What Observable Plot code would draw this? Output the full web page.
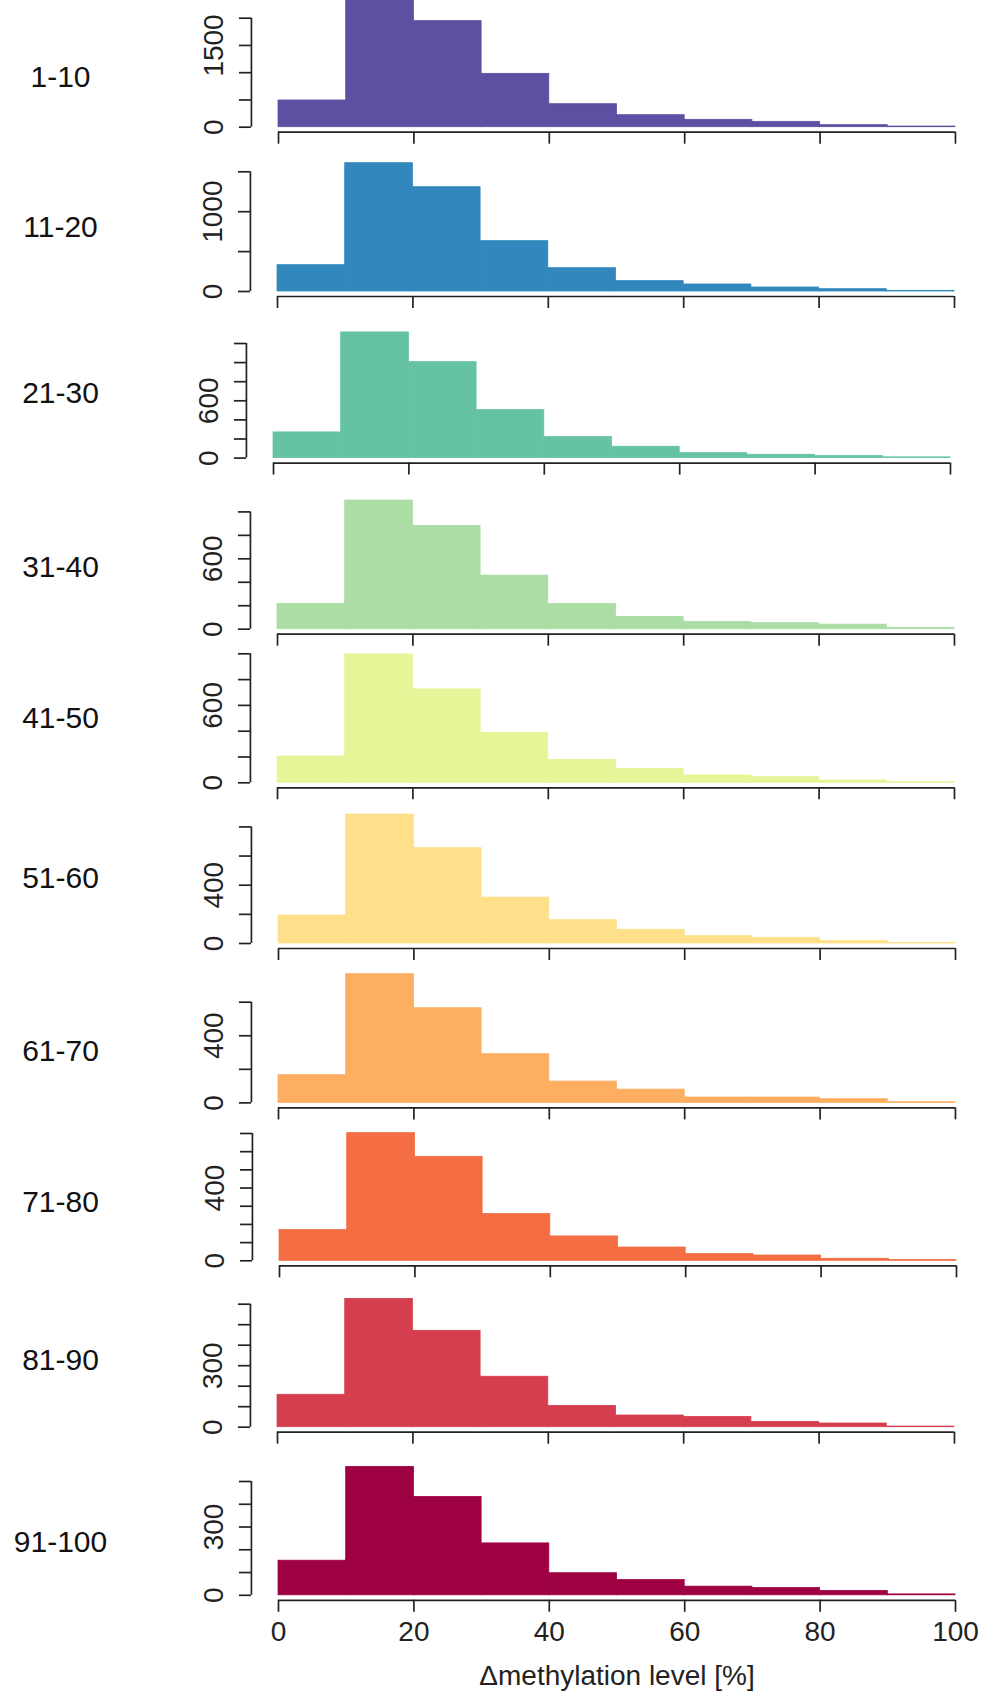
<!DOCTYPE html>
<html>
<head>
<meta charset="utf-8">
<script src="https://cdn.jsdelivr.net/npm/d3@7"></script>
<script src="https://cdn.jsdelivr.net/npm/@observablehq/plot@0.6"></script>
<style>
  html, body { margin: 0; padding: 0; background: #fff; }
  #chart { width: 984px; }
  #chart svg { display: block; overflow: hidden; }
</style>
</head>
<body>
<div id="chart"></div>
<script>
// ---------------- data ----------------
const groups = ["1-10", "11-20", "21-30", "31-40", "41-50", "51-60", "61-70", "71-80", "81-90", "91-100"];
const binStarts = [0, 10, 20, 30, 40, 50, 60, 70, 80, 90];
const binWidth = 10;
const xTicks = [0, 20, 40, 60, 80, 100];
const xLabel = "Δmethylation level [%]";

const counts_1_10   = [490, 2350, 1946, 979, 422, 220, 135, 98, 37, 12];
const counts_11_20  = [330, 1608, 1307, 631, 292, 130, 88, 50, 29, 8];
const counts_21_30  = [269, 1316, 1005, 503, 220, 119, 52, 35, 21, 8];
const counts_31_40  = [216, 1097, 881, 457, 216, 105, 63, 51, 39, 12];
const counts_41_50  = [204, 995, 724, 388, 178, 106, 57, 44, 18, 5];
const counts_51_60  = [192, 885, 654, 315, 160, 94, 50, 39, 16, 5];
const counts_61_70  = [165, 767, 564, 290, 127, 79, 32, 32, 22, 4];
const counts_71_80  = [169, 702, 572, 257, 134, 73, 37, 29, 11, 4];
const counts_81_90  = [158, 626, 470, 246, 104, 57, 50, 26, 18, 3];
const counts_91_100 = [152, 564, 432, 228, 97, 67, 38, 32, 19, 4];

const yTicks_1_10   = [0, 500, 1000, 1500, 2000];
const yTicks_11_20  = [0, 500, 1000, 1500];
const yTicks_21_30  = [0, 200, 400, 600, 800, 1000, 1200];
const yTicks_31_40  = [0, 200, 400, 600, 800, 1000];
const yTicks_41_50  = [0, 200, 400, 600, 800, 1000];
const yTicks_51_60  = [0, 200, 400, 600, 800];
const yTicks_61_70  = [0, 200, 400, 600];
const yTicks_71_80  = [0, 100, 200, 300, 400, 500, 600, 700];
const yTicks_81_90  = [0, 100, 200, 300, 400, 500, 600];
const yTicks_91_100 = [0, 100, 200, 300, 400, 500];

const yLabels_1_10   = [0, 1500];
const yLabels_11_20  = [0, 1000];
const yLabels_21_30  = [0, 600];
const yLabels_31_40  = [0, 600];
const yLabels_41_50  = [0, 600];
const yLabels_51_60  = [0, 400];
const yLabels_61_70  = [0, 400];
const yLabels_71_80  = [0, 400];
const yLabels_81_90  = [0, 300];
const yLabels_91_100 = [0, 300];

const counts = [counts_1_10, counts_11_20, counts_21_30, counts_31_40, counts_41_50,
                counts_51_60, counts_61_70, counts_71_80, counts_81_90, counts_91_100];
const yTicks = [yTicks_1_10, yTicks_11_20, yTicks_21_30, yTicks_31_40, yTicks_41_50,
                yTicks_51_60, yTicks_61_70, yTicks_71_80, yTicks_81_90, yTicks_91_100];
const yLabels = [yLabels_1_10, yLabels_11_20, yLabels_21_30, yLabels_31_40, yLabels_41_50,
                 yLabels_51_60, yLabels_61_70, yLabels_71_80, yLabels_81_90, yLabels_91_100];

// ---------------- layout & style ----------------
const colors = ["#5e4fa2", "#3288bd", "#66c2a5", "#abdda4", "#e6f598",
                "#fee08b", "#fdae61", "#f46d43", "#d53e4f", "#9e0142"];
const W = 984, H = 1693;
const zeroY    = [126.7, 290.7, 457.3, 629.0, 782.3, 943.3, 1102.7, 1260.0, 1426.7, 1594.5];
const topTickY = [17.7, 171.0, 342.7, 511.7, 653.3, 826.7, 1002.0, 1132.7, 1303.7, 1480.7];
const labelY   = [76.7, 226.7, 393.0, 567.0, 718.0, 878.0, 1051.0, 1202.0, 1360.0, 1542.0];
const xShift   = [0, -1, -5, -1, -1, 0, 0, 1, -1, 0];
const baseX0 = 278, span = 677;
const ink = "#222";
const font = "'Liberation Sans', Arial, Helvetica, sans-serif";

const chart = document.getElementById("chart");
const tops = zeroY.map((z, i) => (i === 0 ? 0 : zeroY[i - 1] + 22));

groups.forEach((g, i) => {
  const top = tops[i];
  const bottom = i < groups.length - 1 ? tops[i + 1] : H;
  const h = bottom - top;
  const z = zeroY[i] - top;
  const tt = topTickY[i] - top;
  const ticks = yTicks[i];
  const maxTick = ticks[ticks.length - 1];
  const pxPerUnit = (z - tt) / maxTick;
  const axisLineY = z + 5;
  const x0 = baseX0 + xShift[i];
  const ml = x0 - span * 0.04;
  const mr = W - (x0 + span * 1.04);
  const xDomain = [binStarts[0] - 0.04 * 100, 100 + 0.04 * 100];

  const data = binStarts.map((b, k) => ({x1: b, x2: b + binWidth, count: counts[i][k]}));

  const marks = [
    Plot.rect(data, {x1: "x1", x2: "x2", y1: 0, y2: "count", fill: colors[i],
                     stroke: colors[i], strokeWidth: 0.8}),
    // y axis
    Plot.ruleX([xDomain[0]], {y1: 0, y2: maxTick, stroke: ink, strokeWidth: 1.7}),
    Plot.axisY({ticks, tickSize: 12, tickFormat: () => "", label: null, stroke: ink, strokeWidth: 1.7}),
    Plot.text(yLabels[i], {x: xDomain[0], y: d => d, text: d => String(d), rotate: -90, dx: -37,
                           textAnchor: "middle", lineAnchor: "middle", fontSize: 28, fill: ink}),
    // x axis
    Plot.ruleY([-5 / pxPerUnit], {x1: 0, x2: 100, stroke: ink, strokeWidth: 1.7}),
    Plot.axisX({ticks: xTicks, tickSize: 12, tickFormat: () => "", label: null, stroke: ink, strokeWidth: 1.7}),
    // group label
    Plot.text([g], {frameAnchor: "top-left", text: d => d, dx: 60 - ml, dy: labelY[i] - top,
                    textAnchor: "middle", lineAnchor: "middle", fontSize: 30, fill: "#111"})
  ];

  if (i === groups.length - 1) {
    marks.push(
      Plot.text(xTicks, {x: d => d, text: d => String(d), frameAnchor: "bottom", dy: 32,
                         lineAnchor: "middle", fontSize: 28, fill: ink}),
      Plot.text([xLabel], {frameAnchor: "bottom", text: d => d, dy: 75.5,
                           lineAnchor: "middle", fontSize: 28, fill: ink})
    );
  }

  const svg = Plot.plot({
    width: W,
    height: h,
    marginLeft: ml,
    marginRight: mr,
    marginTop: 0,
    marginBottom: h - axisLineY,
    x: {domain: xDomain},
    y: {domain: [0, maxTick], range: [z, tt]},
    style: {fontFamily: font, background: "white", color: ink, overflow: "hidden"},
    marks
  });
  chart.appendChild(svg);
});
</script>
</body>
</html>
